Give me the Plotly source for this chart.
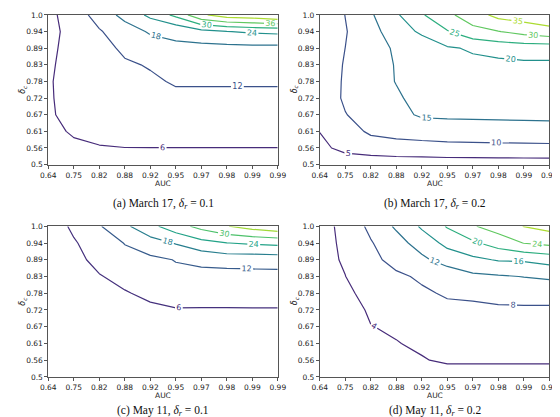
import plotly.graph_objects as go
from plotly.colors import sample_colorscale

# ---- tick labels ----
AUC_LABELS = ["0.64", "0.75", "0.82", "0.88", "0.92", "0.95", "0.97", "0.98", "0.99", "0.99"]
DELTA_C_LABELS = ["0.5", "0.56", "0.61", "0.67", "0.72", "0.78", "0.83", "0.89", "0.94", "1.0"]

# ---- grid values (rows: delta_c from 0.5 to 1.0, cols: AUC index) ----
Z_MAR17_R01 = [
    [2.0, 2.5, 2.8, 3.0, 3.0, 3.0, 3.0, 3.0, 3.0, 3.0],
    [4.0, 5.0, 5.87, 5.97, 5.97, 5.97, 5.97, 5.97, 5.97, 5.97],
    [4.6, 6.6, 6.6, 7.0, 7.3, 7.6, 7.6, 7.6, 7.6, 7.6],
    [5.59, 7.0, 7.3, 8.2, 8.6, 9.2, 9.2, 9.2, 9.2, 9.2],
    [5.66, 7.2, 7.8, 9.2, 9.8, 10.9, 10.9, 10.9, 10.9, 10.9],
    [5.67, 7.4, 8.3, 10.2, 11.2, 12.5, 12.5, 12.5, 12.5, 12.5],
    [5.38, 7.6, 9.0, 11.3, 12.4, 14.0, 14.0, 14.1, 14.2, 14.2],
    [4.9, 7.8, 10.0, 13.05, 15.0, 17.2, 16.2, 16.3, 16.4, 16.4],
    [4.14, 8.1, 11.5, 15.15, 18.7, 19.0, 22.0, 23.8, 24.8, 25.3],
    [4.38, 9.0, 14.3, 19.9, 25.3, 31.5, 41.0, 45.0, 46.0, 48.0],
]
Z_MAR17_R02 = [
    [3.0, 3.44, 4.69, 3.73, 3.59, 3.05, 2.96, 2.8, 2.79, 2.78],
    [4.4, 5.7, 5.25, 6.33, 6.65, 7.59, 7.82, 8.16, 8.31, 8.47],
    [5.05, 6.0, 11.5, 13.0, 14.09, 14.1, 14.23, 14.1, 14.13, 14.15],
    [6.0, 9.83, 12.0, 14.55, 15.2, 15.3, 15.3, 15.4, 15.45, 15.5],
    [6.9, 10.68, 12.8, 14.6, 16.0, 16.3, 16.5, 16.7, 16.8, 16.8],
    [6.3, 10.7, 13.6, 15.11, 16.6, 17.3, 17.5, 17.8, 18.0, 18.0],
    [5.95, 10.5, 13.3, 15.21, 17.0, 18.5, 19.0, 18.7, 19.15, 19.2],
    [7.0, 10.02, 13.0, 15.63, 17.5, 19.48, 20.5, 21.9, 22.3, 22.2],
    [6.5, 9.73, 13.07, 17.9, 20.7, 24.66, 28.5, 29.8, 31.7, 33.3],
    [6.6, 10.07, 14.4, 19.35, 24.5, 28.9, 32.6, 36.5, 37.5, 38.5],
]
Z_MAY11_R01 = [
    [3.0, 3.0, 3.0, 3.0, 3.0, 3.0, 3.0, 3.0, 3.0, 3.0],
    [3.0, 3.2, 3.3, 3.4, 3.5, 3.5, 3.5, 3.5, 3.5, 3.5],
    [3.1, 3.4, 3.7, 3.9, 4.0, 4.2, 4.2, 4.2, 4.2, 4.2],
    [3.2, 3.6, 4.1, 4.4, 4.6, 5.0, 5.0, 5.0, 5.0, 5.0],
    [3.3, 3.8, 4.5, 4.9, 5.11, 5.78, 5.78, 5.78, 5.78, 5.78],
    [3.4, 4.0, 5.0, 5.65, 7.0, 7.5, 7.4, 7.4, 7.5, 7.5],
    [3.6, 4.3, 5.71, 7.4, 8.8, 10.87, 10.1, 9.53, 9.87, 9.98],
    [3.8, 4.58, 7.42, 9.5, 10.78, 12.2, 13.5, 14.68, 14.6, 14.79],
    [4.0, 5.7, 7.6, 12.28, 15.47, 18.4, 22.0, 23.9, 24.8, 25.5],
    [4.1, 6.6, 11.5, 16.8, 22.3, 27.5, 31.9, 35.75, 38.5, 40.6],
]
Z_MAY11_R02 = [
    [2.5, 2.6, 2.7, 2.9, 2.9, 2.94, 2.94, 2.94, 2.94, 2.94],
    [2.55, 2.7, 3.0, 3.5, 3.87, 4.3, 4.3, 4.3, 4.3, 4.3],
    [2.6, 2.8, 3.5, 3.92, 4.32, 5.3, 5.3, 5.3, 5.3, 5.3],
    [2.6, 2.9, 3.95, 4.27, 5.5, 6.2, 6.2, 6.3, 6.3, 6.3],
    [2.6, 3.0, 4.3, 5.5, 6.5, 7.29, 6.87, 7.39, 7.42, 7.3],
    [2.6, 3.2, 5.3, 6.5, 7.53, 8.35, 9.0, 9.3, 9.5, 9.8],
    [2.7, 3.955, 6.2, 7.42, 8.47, 9.15, 11.21, 11.6, 12.1, 12.5],
    [2.8, 4.4, 7.12, 9.08, 11.09, 13.9, 15.16, 16.3, 16.5, 17.5],
    [2.33, 4.9, 7.74, 10.38, 13.84, 17.0, 19.35, 21.8, 24.1, 25.1],
    [2.1, 5.43, 8.85, 12.6, 16.54, 20.33, 23.67, 25.8, 28.1, 29.3],
]

CAPTIONS = [
    "(a) March 17, <i>δ<sub>r</sub></i> = 0.1",
    "(b) March 17, <i>δ<sub>r</sub></i> = 0.2",
    "(c) May 11, <i>δ<sub>r</sub></i> = 0.1",
    "(d) May 11, <i>δ<sub>r</sub></i> = 0.2",
]

# (z, level start, level end, step, colour-norm max)
PANELS = [
    (Z_MAR17_R01, 6, 42, 6, 48),
    (Z_MAR17_R02, 5, 35, 5, 40),
    (Z_MAY11_R01, 6, 36, 6, 42),
    (Z_MAY11_R02, 4, 28, 4, 32),
]

W, H = 560, 417
# plot areas in pixels: (left, right, top, bottom)
BOXES = [
    (33.3, 270.0, 3.0, 156.0),
    (313.3, 550.0, 3.0, 156.0),
    (33.3, 270.0, 219.0, 373.0),
    (313.3, 550.0, 219.0, 373.0),
]
CAPTION_Y = [196.0, 196.0, 408.0, 408.0]

fig = go.Figure()
idx = list(range(10))
tickfont = dict(family="DejaVu Sans", size=7.5, color="#222")
annotations = []

for k, ((z, s, e, step, vmax), (l, r, t, b)) in enumerate(zip(PANELS, BOXES)):
    n = "" if k == 0 else str(k + 1)
    levels = list(range(s, e + 1, step))
    cols = sample_colorscale("Viridis", [lv / vmax for lv in levels])
    cscale = [[i / (len(levels) - 1), c] for i, c in enumerate(cols)]
    fig.add_trace(go.Contour(
        x=idx, y=idx, z=z,
        xaxis="x" + n, yaxis="y" + n,
        contours=dict(start=s, end=e, size=step, coloring="lines",
                      showlabels=True,
                      labelfont=dict(family="DejaVu Sans", size=8)),
        colorscale=cscale,
        line=dict(width=1.2, smoothing=0),
        showscale=False, hoverinfo="skip",
    ))
    xd = [l / W, r / W]
    yd = [1 - b / H, 1 - t / H]
    axcommon = dict(showgrid=False, zeroline=False, showline=True, mirror=True,
                    linecolor="#555", linewidth=0.8, ticks="outside", ticklen=3,
                    tickwidth=0.8, tickcolor="#555", tickfont=tickfont,
                    range=[0, 9], tickvals=idx)
    fig.layout["xaxis" + n] = dict(domain=xd, anchor="y" + n, ticktext=AUC_LABELS, **axcommon)
    fig.layout["yaxis" + n] = dict(domain=yd, anchor="x" + n, ticktext=DELTA_C_LABELS, **axcommon)
    cx = (l + r) / 2 / W
    annotations.append(dict(text="AUC", x=cx, y=1 - (b + 19) / H, xref="paper", yref="paper",
                            showarrow=False, font=dict(family="DejaVu Sans", size=7.5, color="#222"),
                            xanchor="center", yanchor="middle"))
    annotations.append(dict(text="<i>δ<sub>c</sub></i>", x=(l - 26) / W, y=1 - (t + b) / 2 / H,
                            xref="paper", yref="paper", textangle=-90, showarrow=False,
                            font=dict(family="DejaVu Sans", size=8, color="#222"),
                            xanchor="center", yanchor="middle"))
    annotations.append(dict(text=CAPTIONS[k], x=cx, y=1 - CAPTION_Y[k] / H, xref="paper", yref="paper",
                            showarrow=False, font=dict(family="Liberation Serif", size=11.5, color="#111"),
                            xanchor="center", yanchor="middle"))

fig.update_layout(width=W, height=H, autosize=False, margin=dict(l=0, r=0, t=0, b=0),
                  paper_bgcolor="white", plot_bgcolor="white", showlegend=False,
                  annotations=annotations)
fig.write_html("out.html")
